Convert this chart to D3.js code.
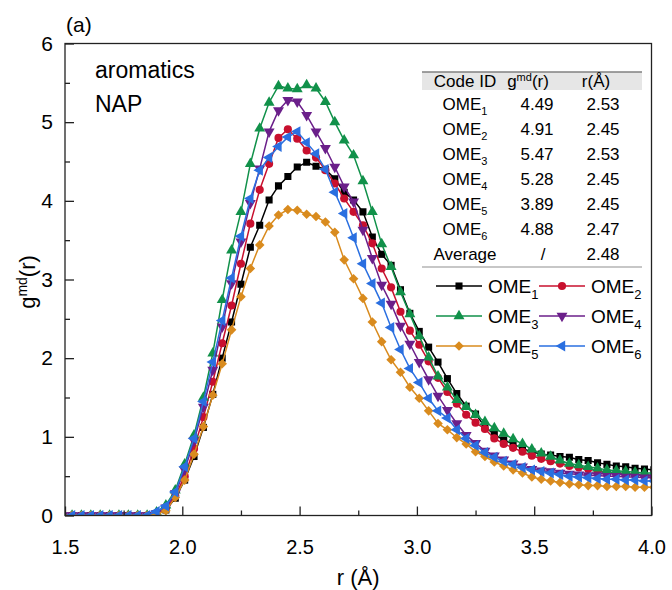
<!DOCTYPE html>
<html>
<head>
<meta charset="utf-8">
<script src="https://cdn.jsdelivr.net/npm/d3@7"></script>
<style>
  body { margin: 0; background: #fff; }
  svg text { font-family: "Liberation Sans", Arial, sans-serif; fill: #000; }
</style>
</head>
<body>
<div id="visualization"></div>
<script>
// r grid (Å)
const rValues = [1.49, 1.53, 1.57, 1.61, 1.65, 1.69, 1.73, 1.77, 1.81, 1.85,
  1.89, 1.93, 1.97, 2.01, 2.05, 2.09, 2.13, 2.17, 2.21, 2.25,
  2.29, 2.33, 2.37, 2.41, 2.45, 2.49, 2.53, 2.57, 2.61, 2.65,
  2.69, 2.73, 2.77, 2.81, 2.85, 2.89, 2.93, 2.97, 3.01, 3.05,
  3.09, 3.13, 3.17, 3.21, 3.25, 3.29, 3.33, 3.37, 3.41, 3.45,
  3.49, 3.53, 3.57, 3.61, 3.65, 3.69, 3.73, 3.77, 3.81, 3.85,
  3.89, 3.93, 3.97, 4.01];

const ome1 = [0, 0, 0, 0, 0, 0, 0, 0, 0, 0,
  0.01, 0.07, 0.22, 0.45, 0.75, 1.12, 1.54, 2.00, 2.46, 2.94,
  3.41, 3.69, 4.01, 4.19, 4.31, 4.43, 4.49, 4.44, 4.40, 4.28,
  4.11, 4.01, 3.86, 3.54, 3.32, 3.18, 2.87, 2.57, 2.34, 2.14,
  1.95, 1.74, 1.55, 1.39, 1.29, 1.13, 1.03, 0.96, 0.91, 0.85,
  0.81, 0.78, 0.77, 0.75, 0.74, 0.71, 0.70, 0.67, 0.65, 0.63,
  0.62, 0.60, 0.59, 0.58];
const ome2 = [0, 0, 0, 0, 0, 0, 0, 0, 0, 0,
  0.02, 0.08, 0.25, 0.50, 0.85, 1.25, 1.70, 2.19, 2.67, 3.20,
  3.71, 4.14, 4.47, 4.80, 4.91, 4.79, 4.64, 4.55, 4.39, 4.22,
  4.03, 3.86, 3.69, 3.46, 3.14, 2.90, 2.59, 2.35, 2.17, 1.96,
  1.75, 1.57, 1.42, 1.28, 1.18, 1.10, 0.98, 0.91, 0.86, 0.81,
  0.76, 0.72, 0.69, 0.66, 0.63, 0.61, 0.59, 0.57, 0.55, 0.54,
  0.53, 0.52, 0.51, 0.50];
const ome3 = [0, 0, 0, 0, 0, 0, 0, 0, 0, 0,
  0.04, 0.13, 0.32, 0.65, 1.02, 1.50, 2.06, 2.74, 3.37, 3.86,
  4.47, 4.92, 5.25, 5.46, 5.43, 5.42, 5.47, 5.43, 5.26, 5.00,
  4.77, 4.58, 4.25, 3.86, 3.45, 3.16, 2.84, 2.56, 2.28, 2.01,
  1.77, 1.63, 1.47, 1.38, 1.28, 1.19, 1.11, 1.04, 0.97, 0.91,
  0.84, 0.79, 0.75, 0.70, 0.66, 0.64, 0.62, 0.60, 0.58, 0.57,
  0.56, 0.55, 0.54, 0.54];
const ome4 = [0, 0, 0, 0, 0, 0, 0, 0, 0, 0,
  0.03, 0.10, 0.28, 0.58, 0.95, 1.38, 1.85, 2.40, 2.95, 3.48,
  3.97, 4.41, 4.88, 5.15, 5.28, 5.26, 5.09, 4.88, 4.67, 4.43,
  4.18, 3.99, 3.63, 3.27, 2.93, 2.69, 2.41, 2.18, 1.95, 1.73,
  1.52, 1.34, 1.17, 1.02, 0.92, 0.82, 0.76, 0.71, 0.66, 0.62,
  0.59, 0.57, 0.56, 0.54, 0.53, 0.52, 0.51, 0.51, 0.50, 0.50,
  0.49, 0.49, 0.48, 0.48];
const ome5 = [0, 0, 0, 0, 0, 0, 0, 0, 0, 0,
  0.02, 0.06, 0.23, 0.45, 0.78, 1.13, 1.53, 1.93, 2.36, 2.78,
  3.14, 3.44, 3.68, 3.82, 3.89, 3.88, 3.83, 3.80, 3.73, 3.60,
  3.25, 3.01, 2.76, 2.46, 2.21, 1.98, 1.82, 1.63, 1.49, 1.33,
  1.17, 1.09, 0.99, 0.91, 0.81, 0.75, 0.68, 0.63, 0.58, 0.54,
  0.49, 0.46, 0.44, 0.42, 0.40, 0.39, 0.38, 0.38, 0.37, 0.37,
  0.37, 0.36, 0.36, 0.36];
const ome6 = [0, 0, 0, 0, 0, 0, 0, 0, 0, 0,
  0.05, 0.12, 0.30, 0.62, 0.98, 1.45, 1.95, 2.48, 3.02, 3.55,
  4.03, 4.39, 4.55, 4.69, 4.81, 4.88, 4.74, 4.60, 4.40, 4.11,
  3.84, 3.53, 3.20, 2.95, 2.70, 2.39, 2.11, 1.87, 1.69, 1.49,
  1.33, 1.24, 1.09, 0.98, 0.89, 0.80, 0.74, 0.69, 0.65, 0.61,
  0.58, 0.56, 0.54, 0.52, 0.50, 0.49, 0.48, 0.47, 0.46, 0.46,
  0.45, 0.45, 0.44, 0.44];

const seriesNames = ['1', '2', '3', '4', '5', '6'];
const seriesValues = [ome1, ome2, ome3, ome4, ome5, ome6];
const seriesColors = ['#000000', '#c8102e', '#11914a', '#6b1f8a', '#d98b1e', '#2a6fe0'];

// table content
const codeIds = ['1', '2', '3', '4', '5', '6'];
const gPeak = ['4.49', '4.91', '5.47', '5.28', '3.89', '4.88'];
const rPeak = ['2.53', '2.45', '2.53', '2.45', '2.45', '2.47'];
const averageR = '2.48';

const xTicks = [1.5, 2.0, 2.5, 3.0, 3.5, 4.0];
const xMinorTicks = [1.75, 2.25, 2.75, 3.25, 3.75];
const yTicks = [0, 1, 2, 3, 4, 5, 6];
const yMinorTicks = [0.5, 1.5, 2.5, 3.5, 4.5, 5.5];

document.addEventListener('DOMContentLoaded', () => {
    d3.select('#visualization').html('');

    const width = 672;
    const height = 590;
    const margin = { top: 43.5, right: 20.5, bottom: 74.5, left: 65 };

    const svg = d3.select('#visualization')
        .append('svg')
        .attr('width', width)
        .attr('height', height);

    const xScale = d3.scaleLinear()
        .domain([1.5, 4.0])
        .range([margin.left, width - margin.right]);

    const yScale = d3.scaleLinear()
        .domain([0, 6])
        .range([height - margin.bottom, margin.top]);

    svg.append('clipPath')
        .attr('id', 'plotClip')
        .append('rect')
        .attr('x', margin.left)
        .attr('y', margin.top - 10)
        .attr('width', width - margin.left - margin.right)
        .attr('height', height - margin.top - margin.bottom + 10);

    // symbols for each series (diamond = rotated square)
    const symbolFor = [
        { type: d3.symbolSquare, size: 50, rotate: 0 },
        { type: d3.symbolCircle, size: 52, rotate: 0 },
        { type: d3.symbolTriangle, size: 52, rotate: 0 },
        { type: d3.symbolTriangle, size: 52, rotate: 180 },
        { type: d3.symbolSquare, size: 46, rotate: 45 },
        { type: d3.symbolTriangle, size: 52, rotate: -90 }
    ];

    const line = d3.line()
        .x((d, i) => xScale(rValues[i]))
        .y(d => yScale(d));

    const plot = svg.append('g').attr('clip-path', 'url(#plotClip)');

    seriesValues.forEach((vals, s) => {
        const g = plot.append('g');
        g.append('path')
            .datum(vals)
            .attr('d', line)
            .attr('fill', 'none')
            .attr('stroke', seriesColors[s])
            .attr('stroke-width', 1.5);

        const sym = d3.symbol().type(symbolFor[s].type).size(symbolFor[s].size);
        g.selectAll('path.marker')
            .data(vals)
            .enter()
            .append('path')
            .attr('class', 'marker')
            .attr('d', sym)
            .attr('transform', (d, i) => `translate(${xScale(rValues[i])},${yScale(d)}) rotate(${symbolFor[s].rotate})`)
            .attr('fill', seriesColors[s]);
    });

    // Add X axis (inward ticks)
    const xAxis = svg.append('g')
        .attr('transform', `translate(0,${height - margin.bottom})`)
        .call(d3.axisBottom(xScale)
            .tickValues(xTicks)
            .tickFormat(d3.format('.1f'))
            .tickSizeInner(-9)
            .tickSizeOuter(0)
            .tickPadding(24));
    svg.append('g')
        .attr('transform', `translate(0,${height - margin.bottom})`)
        .call(d3.axisBottom(xScale)
            .tickValues(xMinorTicks)
            .tickFormat('')
            .tickSizeInner(-5)
            .tickSizeOuter(0));

    // Add Y axis (inward ticks)
    const yAxis = svg.append('g')
        .attr('transform', `translate(${margin.left},0)`)
        .call(d3.axisLeft(yScale)
            .tickValues(yTicks)
            .tickFormat(d3.format('d'))
            .tickSizeInner(-9)
            .tickSizeOuter(0)
            .tickPadding(12));
    svg.append('g')
        .attr('transform', `translate(${margin.left},0)`)
        .call(d3.axisLeft(yScale)
            .tickValues(yMinorTicks)
            .tickFormat('')
            .tickSizeInner(-5)
            .tickSizeOuter(0));

    svg.selectAll('.domain').remove();
    svg.selectAll('.tick line').attr('stroke', '#222').attr('stroke-width', 1.3);
    xAxis.selectAll('text').style('font-size', '20px');
    yAxis.selectAll('text').style('font-size', '21px');

    // frame
    svg.append('rect')
        .attr('x', margin.left)
        .attr('y', margin.top)
        .attr('width', width - margin.left - margin.right)
        .attr('height', height - margin.top - margin.bottom)
        .attr('fill', 'none')
        .attr('stroke', '#222')
        .attr('stroke-width', 1.3);

    // Axis titles
    svg.append('text')
        .attr('x', (margin.left + width - margin.right) / 2)
        .attr('y', 585)
        .attr('text-anchor', 'middle')
        .style('font-size', '22px')
        .text('r (Å)');

    const yTitle = svg.append('text')
        .attr('transform', 'translate(35,282) rotate(-90)')
        .attr('text-anchor', 'middle')
        .style('font-size', '22px');
    yTitle.append('tspan').text('g');
    yTitle.append('tspan').attr('dy', -8).style('font-size', '14px').text('md');
    yTitle.append('tspan').attr('dy', 8).text('(r)');

    svg.append('text')
        .attr('x', 66)
        .attr('y', 32)
        .style('font-size', '21px')
        .text('(a)');

    svg.append('text').attr('x', 95).attr('y', 78).style('font-size', '23px').text('aromatics');
    svg.append('text').attr('x', 95).attr('y', 112).style('font-size', '23px').text('NAP');

    // table
    const table = svg.append('g');
    const tLeft = 422, tRight = 642;
    table.append('rect')
        .attr('x', tLeft).attr('y', 72)
        .attr('width', tRight - tLeft).attr('height', 18)
        .attr('fill', '#e6e6e6');
    table.append('line')
        .attr('x1', tLeft).attr('x2', tRight).attr('y1', 72).attr('y2', 72)
        .attr('stroke', '#808080').attr('stroke-width', 1.5);
    table.append('line')
        .attr('x1', tLeft).attr('x2', tRight).attr('y1', 267).attr('y2', 267)
        .attr('stroke', '#909090').attr('stroke-width', 1.2);

    const colX = [465, 537, 603];
    const fs = '17px';
    table.append('text').attr('x', colX[0]).attr('y', 87).attr('text-anchor', 'middle')
        .style('font-size', fs).text('Code ID');
    const gh = table.append('text').attr('x', 528).attr('y', 87).attr('text-anchor', 'middle')
        .style('font-size', fs);
    gh.append('tspan').text('g');
    gh.append('tspan').attr('dy', -6).style('font-size', '11px').text('md');
    gh.append('tspan').attr('dy', 6).text('(r)');
    table.append('text').attr('x', 596).attr('y', 87).attr('text-anchor', 'middle')
        .style('font-size', fs).text('r(Å)');

    codeIds.forEach((c, i) => {
        const y = 110 + i * 25;
        const t = table.append('text').attr('x', colX[0]).attr('y', y).attr('text-anchor', 'middle')
            .style('font-size', fs);
        t.append('tspan').text('OME');
        t.append('tspan').attr('dy', 5).style('font-size', '11px').text(c);
        table.append('text').attr('x', colX[1]).attr('y', y).attr('text-anchor', 'middle')
            .style('font-size', fs).text(gPeak[i]);
        table.append('text').attr('x', colX[2]).attr('y', y).attr('text-anchor', 'middle')
            .style('font-size', fs).text(rPeak[i]);
    });
    table.append('text').attr('x', colX[0]).attr('y', 260).attr('text-anchor', 'middle')
        .style('font-size', fs).text('Average');
    table.append('text').attr('x', 543).attr('y', 260).attr('text-anchor', 'middle')
        .style('font-size', fs).text('/');
    table.append('text').attr('x', colX[2]).attr('y', 260).attr('text-anchor', 'middle')
        .style('font-size', fs).text(averageR);

    // legend
    const legend = svg.append('g');
    const legCols = [436, 539];
    const legRows = [286, 316, 346];
    seriesNames.forEach((name, s) => {
        const lx = legCols[s % 2];
        const ly = legRows[Math.floor(s / 2)];
        legend.append('line')
            .attr('x1', lx).attr('x2', lx + 46)
            .attr('y1', ly).attr('y2', ly)
            .attr('stroke', seriesColors[s]).attr('stroke-width', 1.5);
        legend.append('path')
            .attr('d', d3.symbol().type(symbolFor[s].type).size(symbolFor[s].size)())
            .attr('transform', `translate(${lx + 23},${ly}) rotate(${symbolFor[s].rotate})`)
            .attr('fill', seriesColors[s]);
        const t = legend.append('text')
            .attr('x', lx + 52).attr('y', ly + 7)
            .style('font-size', '19px');
        t.append('tspan').text('OME');
        t.append('tspan').attr('dy', 6).style('font-size', '13px').text(name);
    });
});
</script>
</body>
</html>
